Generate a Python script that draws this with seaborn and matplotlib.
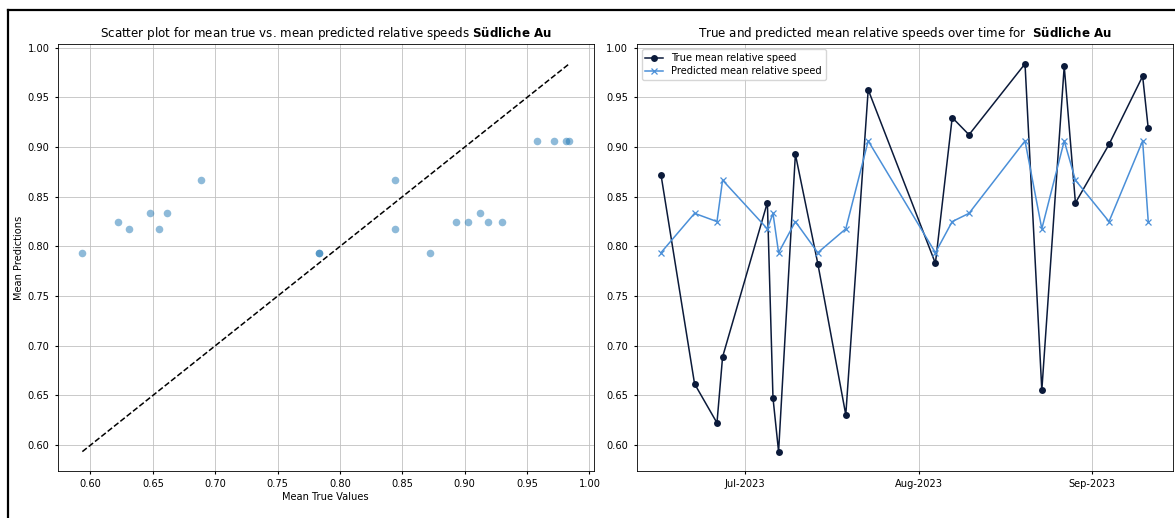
import matplotlib.pyplot as plt
import matplotlib.dates as mdates
from matplotlib.lines import Line2D
import pandas as pd
import seaborn as sns

## data
dates = ["2023-06-16", "2023-06-22", "2023-06-26", "2023-06-27", "2023-07-05",
         "2023-07-06", "2023-07-07", "2023-07-10", "2023-07-14", "2023-07-19",
         "2023-07-23", "2023-08-04", "2023-08-07", "2023-08-10", "2023-08-20",
         "2023-08-23", "2023-08-27", "2023-08-29", "2023-09-04", "2023-09-10",
         "2023-09-11"]
true_speed = [0.8723, 0.6617, 0.6224, 0.6887, 0.8442, 0.6476, 0.5935, 0.8928,
              0.7828, 0.6305, 0.9577, 0.7830, 0.9297, 0.9124, 0.9838, 0.6553,
              0.9814, 0.8438, 0.9027, 0.9713, 0.9188]
pred_speed = [0.7937, 0.8333, 0.8250, 0.8667, 0.8177, 0.8333, 0.7937, 0.8250,
              0.7937, 0.8177, 0.9062, 0.7937, 0.8250, 0.8333, 0.9062, 0.8177,
              0.9062, 0.8667, 0.8250, 0.9062, 0.8250]
station = "Südliche Au"

df = pd.DataFrame({"date": pd.to_datetime(dates), "true": true_speed, "pred": pred_speed})

fs_tick = 7.1
fs_title = 8.6
plt.rcParams["font.family"] = ["DejaVu Sans"]
plt.rcParams["xtick.labelsize"] = fs_tick
plt.rcParams["ytick.labelsize"] = fs_tick
plt.rcParams["xtick.major.size"] = 2.5
plt.rcParams["ytick.major.size"] = 2.5
plt.rcParams["axes.linewidth"] = 0.6
plt.rcParams["grid.linewidth"] = 0.6

fig = plt.figure(figsize=(11.75, 5.18), dpi=100)
ax1 = fig.add_axes([58 / 1175, 1 - 471 / 518, (593.6 - 58) / 1175, (471 - 44.4) / 518])
ax2 = fig.add_axes([636.6 / 1175, 1 - 471 / 518, (1172.6 - 636.6) / 1175, (471 - 44.4) / 518])

# LEFT: scatter true vs predicted
sns.scatterplot(data=df, x="true", y="pred", color="#1f77b4", alpha=0.5, s=30,
                linewidth=0, ax=ax1, zorder=3)
lo, hi = df["true"].min(), df["true"].max()
ax1.plot([lo, hi], [lo, hi], "k--", lw=1.1, zorder=2)
ax1.margins(0.05)
ax1.set_xticks([0.60, 0.65, 0.70, 0.75, 0.80, 0.85, 0.90, 0.95, 1.00])
ax1.set_yticks([0.60, 0.65, 0.70, 0.75, 0.80, 0.85, 0.90, 0.95, 1.00])
ax1.xaxis.set_major_formatter(plt.FormatStrFormatter("%.2f"))
ax1.yaxis.set_major_formatter(plt.FormatStrFormatter("%.2f"))
ax1.set_xlabel("Mean True Values", fontsize=fs_tick, labelpad=2)
ax1.set_ylabel("Mean Predictions", fontsize=fs_tick, labelpad=3)
ax1.set_title(f"Scatter plot for mean true vs. mean predicted relative speeds $\\bf{{Südliche\\ Au}}$",
              fontsize=fs_title, pad=5)
ax1.grid(True, color="#c0c0c0")
ax1.set_axisbelow(True)

# RIGHT: time series
c_true = "#0b1a3a"
c_pred = "#4a8fd8"
sns.lineplot(data=df, x="date", y="true", color=c_true, marker="o", markersize=5,
             markeredgewidth=0, markeredgecolor=c_true, lw=1.1,
             label="True mean relative speed", ax=ax2)
sns.lineplot(data=df, x="date", y="pred", color=c_pred, marker="x", markersize=4.5,
             markeredgewidth=0.9, markeredgecolor=c_pred, lw=1.1,
             label="Predicted mean relative speed", ax=ax2)
ax2.margins(0.05)
ax2.set_yticks([0.60, 0.65, 0.70, 0.75, 0.80, 0.85, 0.90, 0.95, 1.00])
ax2.yaxis.set_major_formatter(plt.FormatStrFormatter("%.2f"))
ax2.set_ylim(ax1.get_ylim())
ax2.xaxis.set_major_locator(mdates.MonthLocator())
ax2.xaxis.set_major_formatter(mdates.DateFormatter("%b-%Y"))
ax2.set_xlabel("")
ax2.set_ylabel("")
ax2.set_title(f"True and predicted mean relative speeds over time for  $\\bf{{Südliche\\ Au}}$",
              fontsize=fs_title, pad=5)
ax2.grid(True, color="#c0c0c0")
ax2.legend(loc="upper left", fontsize=fs_tick, handlelength=1.8, borderpad=0.4,
           labelspacing=0.3, framealpha=0.8)

# screenshot frame (left and top edges)
fx, fy = 8 / 1175, 1 - 10 / 518
fig.add_artist(Line2D([fx, fx], [0, fy], color="black", lw=1.6))
fig.add_artist(Line2D([fx, 1], [fy, fy], color="black", lw=1.6))

fig.savefig("out.png", dpi=100)
